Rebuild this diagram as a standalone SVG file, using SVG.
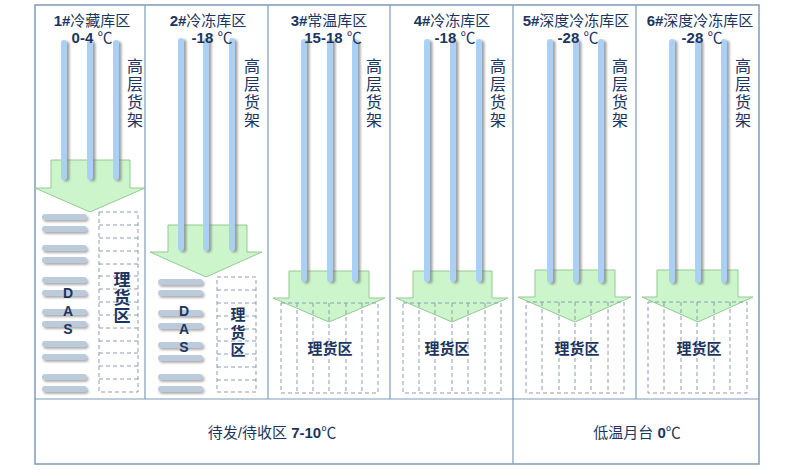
<svg xmlns="http://www.w3.org/2000/svg" width="800" height="470" viewBox="0 0 800 470">
<defs>
<filter id="sh" x="-50%" y="-10%" width="250%" height="130%">
<feDropShadow dx="2.5" dy="1.5" stdDeviation="1.2" flood-color="#7a7a7a" flood-opacity="0.7"/>
</filter>
<filter id="sh2" x="-10%" y="-50%" width="130%" height="250%">
<feDropShadow dx="1.5" dy="2" stdDeviation="1" flood-color="#7a7a7a" flood-opacity="0.6"/>
</filter>
</defs>
<style>
.frame{fill:none;stroke:#7d9bb8;stroke-width:1.5}
.div{stroke:#7d9bb8;stroke-width:1.2}
.bar{fill:#abd0f6}
.das{fill:#bccbdb}
.arrow{fill:#ccf5cc;stroke:#93c993;stroke-width:1}
.dash{fill:none;stroke:#8c9cb0;stroke-width:1;stroke-dasharray:4 3}
.t{font-family:"Liberation Sans","Noto Sans CJK SC",sans-serif;fill:#1c3560;text-anchor:middle}
.title{font-size:15px}
.b{font-weight:bold}
.v{writing-mode:vertical-rl;text-orientation:upright}
.cj{font-family:"Noto Sans CJK SC",sans-serif;font-size:16px;fill:#1c3560;letter-spacing:2px}
.lb{font-family:"Noto Sans CJK SC",sans-serif;font-weight:bold;fill:#1c3560}
.hz{text-anchor:middle}
.dl{font-family:"Liberation Sans",sans-serif;font-weight:bold;font-size:14px;fill:#1c3560;letter-spacing:2px}
</style>
<rect width="800" height="470" fill="#ffffff"/>
<g id="frame">
<rect class="frame" x="35" y="5" width="724" height="459"/>
<line class="div" x1="35" y1="399" x2="759" y2="399"/>
<line class="div" x1="145" y1="5" x2="145" y2="399"/>
<line class="div" x1="268" y1="5" x2="268" y2="399"/>
<line class="div" x1="390" y1="5" x2="390" y2="399"/>
<line class="div" x1="513" y1="5" x2="513" y2="464"/>
<line class="div" x1="636" y1="5" x2="636" y2="399"/>
</g>
<g id="connectors">
<path class="arrow" d="M51,160 H130 V188 H145 L90,212 L35,188 H51 Z"/>
<path class="arrow" d="M168,225 H247 V252 H262 L206,277 L150,252 H168 Z"/>
<path class="arrow" d="M289,271 H369 V298 H385 L329,322 L273,298 H289 Z"/>
<path class="arrow" d="M413,271 H492 V298 H508 L452,322 L396,298 H413 Z"/>
<path class="arrow" d="M535,270 H615 V297 H631 L575,322 L518,297 H535 Z"/>
<path class="arrow" d="M657,270 H738 V297 H753 L698,322 L642,297 H657 Z"/>
</g>
<g id="zone1">
<g filter="url(#sh)">
<rect class="bar" x="61" y="40" width="6" height="140" rx="3"/>
<rect class="bar" x="87" y="40" width="6" height="140" rx="3"/>
<rect class="bar" x="113" y="40" width="6" height="140" rx="3"/>
</g>
<text class="t title" x="92" y="26"><tspan class="b">1#</tspan>冷藏库区</text>
<text class="t title" x="92" y="43"><tspan class="b">0-4 </tspan>℃</text>
<text class="cj v" x="135" y="58">高层货架</text>
<g filter="url(#sh2)">
<rect class="das" x="42" y="214" width="45" height="6" rx="3"/>
<rect class="das" x="42" y="226" width="45" height="6" rx="3"/>
<rect class="das" x="42" y="245" width="45" height="6" rx="3"/>
<rect class="das" x="42" y="257" width="45" height="6" rx="3"/>
<rect class="das" x="42" y="277" width="45" height="6" rx="3"/>
<rect class="das" x="42" y="290" width="45" height="6" rx="3"/>
<rect class="das" x="42" y="309" width="45" height="6" rx="3"/>
<rect class="das" x="42" y="321" width="45" height="6" rx="3"/>
<rect class="das" x="42" y="341" width="45" height="6" rx="3"/>
<rect class="das" x="42" y="354" width="45" height="6" rx="3"/>
<rect class="das" x="42" y="374" width="45" height="6" rx="3"/>
<rect class="das" x="42" y="386" width="45" height="6" rx="3"/>
</g>
<text class="dl v" x="68" y="285">DAS</text>
<rect class="dash" x="99" y="212" width="39" height="180"/>
<path class="dash" d="M99,225 H138 M99,238 H138 M99,251 H138 M99,264 H138 M99,276 H138 M99,289 H138 M99,302 H138 M99,315 H138 M99,328 H138 M99,341 H138 M99,353 H138 M99,366 H138 M99,379 H138"/>
<text class="lb v" x="122" y="271" font-size="17" letter-spacing="1">理货区</text>
</g>
<g id="zone2">
<g filter="url(#sh)">
<rect class="bar" x="178" y="38" width="6" height="213" rx="3"/>
<rect class="bar" x="203" y="38" width="6" height="213" rx="3"/>
<rect class="bar" x="229" y="38" width="6" height="213" rx="3"/>
</g>
<text class="t title" x="208" y="26"><tspan class="b">2#</tspan>冷冻库区</text>
<text class="t title" x="212" y="43"><tspan class="b">-18 </tspan>℃</text>
<text class="cj v" x="252" y="58">高层货架</text>
<g filter="url(#sh2)">
<rect class="das" x="158" y="279" width="45" height="6" rx="3"/>
<rect class="das" x="158" y="290" width="45" height="6" rx="3"/>
<rect class="das" x="158" y="310" width="45" height="6" rx="3"/>
<rect class="das" x="158" y="323" width="45" height="6" rx="3"/>
<rect class="das" x="158" y="342" width="45" height="6" rx="3"/>
<rect class="das" x="158" y="355" width="45" height="6" rx="3"/>
<rect class="das" x="158" y="374" width="45" height="6" rx="3"/>
<rect class="das" x="158" y="386" width="45" height="6" rx="3"/>
</g>
<text class="dl v" x="184" y="303">DAS</text>
<rect class="dash" x="217" y="277" width="39" height="115"/>
<path class="dash" d="M217,290 H256 M217,303 H256 M217,316 H256 M217,329 H256 M217,341 H256 M217,354 H256 M217,367 H256 M217,380 H256"/>
<text class="lb v" x="238" y="307" font-size="15" letter-spacing="2.5">理货区</text>
</g>
<g id="zone3">
<g filter="url(#sh)">
<rect class="bar" x="301" y="39" width="6" height="243" rx="3"/>
<rect class="bar" x="327" y="39" width="6" height="243" rx="3"/>
<rect class="bar" x="352" y="39" width="6" height="243" rx="3"/>
</g>
<text class="t title" x="329" y="26"><tspan class="b">3#</tspan>常温库区</text>
<text class="t title" x="333" y="43"><tspan class="b">15-18 </tspan>℃</text>
<text class="cj v" x="374" y="58">高层货架</text>
<rect class="dash" x="281" y="303" width="97" height="90"/>
<path class="dash" d="M297,303 V393 M313,303 V393 M329,303 V393 M346,303 V393 M362,303 V393"/>
<text class="lb hz" x="330" y="354" font-size="15">理货区</text>
</g>
<g id="zone4">
<g filter="url(#sh)">
<rect class="bar" x="424" y="39" width="6" height="243" rx="3"/>
<rect class="bar" x="450" y="39" width="6" height="243" rx="3"/>
<rect class="bar" x="476" y="39" width="6" height="243" rx="3"/>
</g>
<text class="t title" x="452" y="26"><tspan class="b">4#</tspan>冷冻库区</text>
<text class="t title" x="455" y="43"><tspan class="b">-18 </tspan>℃</text>
<text class="cj v" x="498" y="58">高层货架</text>
<rect class="dash" x="403" y="303" width="98" height="90"/>
<path class="dash" d="M419,303 V393 M435,303 V393 M452,303 V393 M468,303 V393 M485,303 V393"/>
<text class="lb hz" x="447" y="354" font-size="15">理货区</text>
</g>
<g id="zone5">
<g filter="url(#sh)">
<rect class="bar" x="547" y="39" width="6" height="244" rx="3"/>
<rect class="bar" x="573" y="39" width="6" height="244" rx="3"/>
<rect class="bar" x="598" y="39" width="6" height="244" rx="3"/>
</g>
<text class="t title" x="576" y="26"><tspan class="b">5#</tspan>深度冷冻库区</text>
<text class="t title" x="578" y="43"><tspan class="b">-28 </tspan>℃</text>
<text class="cj v" x="620" y="58">高层货架</text>
<rect class="dash" x="526" y="302" width="98" height="91"/>
<path class="dash" d="M542,302 V393 M559,302 V393 M575,302 V393 M591,302 V393 M608,302 V393"/>
<text class="lb hz" x="577" y="354" font-size="15">理货区</text>
</g>
<g id="zone6">
<g filter="url(#sh)">
<rect class="bar" x="669" y="39" width="6" height="244" rx="3"/>
<rect class="bar" x="695" y="39" width="6" height="244" rx="3"/>
<rect class="bar" x="721" y="39" width="6" height="244" rx="3"/>
</g>
<text class="t title" x="700" y="26"><tspan class="b">6#</tspan>深度冷冻库区</text>
<text class="t title" x="702" y="43"><tspan class="b">-28 </tspan>℃</text>
<text class="cj v" x="743" y="58">高层货架</text>
<rect class="dash" x="648" y="302" width="99" height="91"/>
<path class="dash" d="M664,302 V393 M681,302 V393 M697,302 V393 M714,302 V393 M730,302 V393"/>
<text class="lb hz" x="699" y="354" font-size="15">理货区</text>
</g>
<g id="dock1">
<text class="t" x="272" y="438" font-size="15">待发/待收区 <tspan class="b">7-10</tspan>℃</text>
</g>
<g id="dock2">
<text class="t" x="637" y="438" font-size="15">低温月台 <tspan class="b">0</tspan>℃</text>
</g>
</svg>
